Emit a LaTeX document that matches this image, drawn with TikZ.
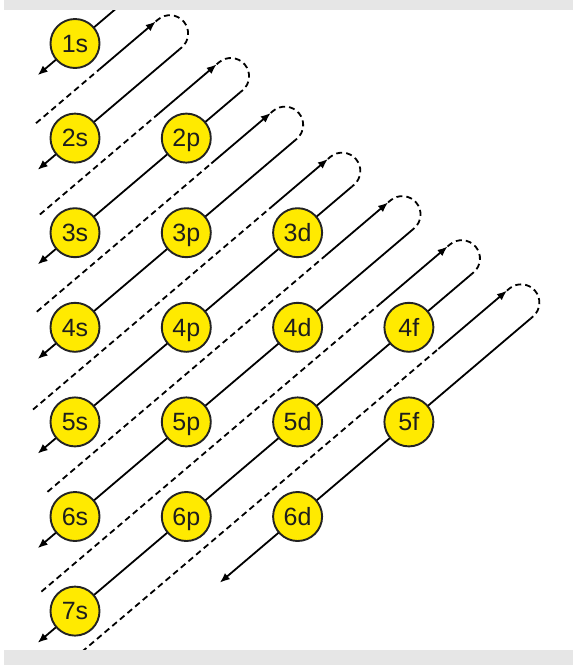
\documentclass[tikz,border=0pt]{standalone}
\usepackage{fontspec}
\setmainfont{Liberation Sans}
\usetikzlibrary{arrows.meta}
\definecolor{orbyellow}{RGB}{255,234,0}
\definecolor{edgegrey}{RGB}{35,35,35}
\definecolor{bandgrey}{RGB}{230,230,230}
\definecolor{txtgrey}{RGB}{30,30,30}
% point on diagonal #2 at distance #3 along it, offset #4 across it
\newcommand\diagpt[4]{%
  \pgfmathsetmacro\dpx{75 + 0.762*(#3) + 0.6475*(#4)}%
  \pgfmathsetmacro\dpy{43.5 + 94.6*((#2)-1) - 0.6475*(#3) + 0.762*(#4)}%
  \coordinate (#1) at (\dpx,\dpy);%
}
\begin{document}
\begin{tikzpicture}[x=1pt,y=-1pt,
  orb/.style={circle, draw=edgegrey, line width=1.9pt, fill=orbyellow,
    minimum size=49pt, inner sep=0pt, text=txtgrey,
    text height=17.5pt, text depth=0pt,
    font=\fontsize{25}{25}\selectfont},
  downline/.style={line width=1.8pt, -{Latex[length=10pt,width=8pt]}},
  upsolid/.style={line width=1.8pt, -{Latex[length=10pt,width=8pt]}},
  updash/.style={line width=1.8pt, dash pattern=on 6pt off 4pt},
  turnback/.style={line width=1.8pt, dash pattern=on 6pt off 4pt},
]
\useasboundingbox (0,0) rectangle (573,665);
\fill[white] (0,0) rectangle (573,665);

% first diagonal (1s)
\diagpt{d1-top}{1}{63}{0}
\diagpt{d1-bot}{1}{-49}{0}
\draw[downline] (d1-top) -- (d1-bot);

% diagonals 2..8: k / top t / up-line start / solid start / bottom t
\foreach \k/\T/\us/\um/\bt in {2/137/-20/63/-49, 3/217/-15/141/-49,
    4/288/-19/210/-49, 5/363/-24/286/-49, 6/442/-5/359/-49,
    7/520/-13/432/-49, 8/598/10/508/190}{
  \diagpt{d\k-top}{\k}{\T}{0}
  \diagpt{d\k-bot}{\k}{\bt}{0}
  \diagpt{u\k-start}{\k}{\us}{-36.6}
  \diagpt{u\k-mid}{\k}{\um}{-36.6}
  \diagpt{u\k-top}{\k}{\T}{-36.6}
  \diagpt{u\k-ext}{\k}{\T+3}{-36.6}
  \draw[downline] (d\k-top) -- (d\k-bot);
  \draw[updash] (u\k-start) -- (u\k-mid);
  \draw[upsolid] (u\k-mid) -- (u\k-top);
  \draw[turnback] (u\k-top) -- (u\k-ext)
     arc[start angle=130.36, end angle=-49.64, radius=18.3pt] -- (d\k-top);
}

% grey bands
\fill[bandgrey] (4,0) rectangle (573,10);
\fill[bandgrey] (4,650) rectangle (573,665);

% orbitals
\node[orb] (o1s) at (75,43.5) {1s};
\node[orb] (o2s) at (75,138.1) {2s};
\node[orb] (o2p) at (186.3,138.1) {2p};
\node[orb] (o3s) at (75,232.7) {3s};
\node[orb] (o3p) at (186.3,232.7) {3p};
\node[orb] (o3d) at (297.6,232.7) {3d};
\node[orb] (o4s) at (75,327.3) {4s};
\node[orb] (o4p) at (186.3,327.3) {4p};
\node[orb] (o4d) at (297.6,327.3) {4d};
\node[orb] (o4f) at (408.9,327.3) {4f};
\node[orb] (o5s) at (75,421.9) {5s};
\node[orb] (o5p) at (186.3,421.9) {5p};
\node[orb] (o5d) at (297.6,421.9) {5d};
\node[orb] (o5f) at (408.9,421.9) {5f};
\node[orb] (o6s) at (75,516.5) {6s};
\node[orb] (o6p) at (186.3,516.5) {6p};
\node[orb] (o6d) at (297.6,516.5) {6d};
\node[orb] (o7s) at (75,611.1) {7s};
\end{tikzpicture}
\end{document}
